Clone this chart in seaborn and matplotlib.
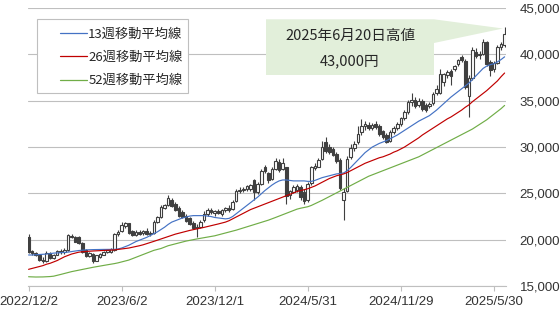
import numpy as np
import pandas as pd
import matplotlib
matplotlib.use("Agg")
import matplotlib.pyplot as plt
import seaborn as sns
from matplotlib.patches import Rectangle, Polygon
from matplotlib.font_manager import FontProperties

# ---------------- data (weekly candles, 2022/12/2 .. 2025/6/20) ----------------
opens = [20300, 18800, 18550, 18400, 17800, 17700, 18600, 18000, 18400, 18750,
         18650, 18900, 20400, 20300, 20250, 19600, 18850, 18250, 18500, 17750,
         18100, 18400, 18700, 18650, 18900, 20600, 20900, 21450, 21750, 20900,
         20550, 20800, 20700, 20900, 20600, 20700, 21900, 22400, 23450, 23700,
         24300, 23900, 23400, 23000, 22600, 22300, 21800, 21400, 21400, 22100,
         22800, 23200, 22900, 23100, 22800, 23200, 23400, 23300, 24200, 25300,
         25400, 25500, 25500, 26400, 25100, 26000, 27800, 27200, 26600, 27600,
         28400, 27600, 27800, 24800, 25200, 25400, 25700, 25200, 24300, 26100,
         27700, 27900, 28700, 30500, 30000, 29800, 29300, 28600, 24300, 25300,
         28900, 29900, 30500, 31600, 32300, 32400, 32100, 32500, 32300, 31700,
         31300, 30700, 31600, 32100, 32500, 33100, 33800, 34900, 35100, 34600,
         35000, 34600, 34400, 34800, 35800, 35800, 37000, 37800, 38200, 38400,
         39000, 39700, 39300, 35500, 37500, 40300, 40000, 40000, 41300, 39200,
         38400, 39100, 40800, 41000]
highs = [20650, 18900, 18700, 18450, 18100, 18750, 18700, 18500, 18900, 19000,
         19100, 20600, 20650, 20450, 20400, 19700, 19000, 18700, 18600, 18400,
         18600, 18800, 19000, 19100, 20700, 21000, 21950, 21900, 21850, 21100,
         21000, 21000, 21100, 21250, 20900, 22100, 22600, 23700, 23900, 24830,
         24500, 24100, 23600, 23200, 22800, 22500, 22000, 21700, 22100, 23100,
         23400, 23400, 23200, 23300, 23300, 23500, 23700, 24300, 25500, 25700,
         25700, 25900, 26000, 26600, 26200, 27600, 28100, 27300, 27800, 28800,
         28700, 28800, 27900, 25400, 25900, 26000, 25900, 25500, 26200, 28000,
         28300, 28800, 30700, 31100, 30300, 30000, 29500, 28800, 25600, 29000,
         30300, 30700, 32300, 33000, 32800, 32700, 32600, 32800, 32500, 31900,
         31500, 31900, 32300, 32700, 33300, 34000, 35100, 35800, 35400, 35300,
         35200, 34800, 34900, 36000, 36700, 38400, 38000, 38300, 38400, 38900,
         39500, 39900, 39500, 37800, 40800, 40700, 40400, 41700, 41500, 39400,
         39300, 41000, 41300, 43000]
lows = [18600, 18400, 18200, 17650, 17500, 17600, 17900, 17900, 18300, 18500,
        18500, 18800, 20200, 19700, 19500, 18600, 18100, 18100, 17500, 17650,
        18000, 18300, 18550, 18600, 18800, 20400, 20800, 21300, 20600, 20400,
        20400, 20500, 20500, 20500, 20400, 20600, 21800, 22300, 23300, 23600,
        23500, 23100, 22500, 22300, 21900, 21600, 21200, 20300, 21300, 21900,
        22600, 22800, 22600, 22800, 22600, 23000, 23000, 23200, 24100, 25000,
        25100, 25300, 25300, 24300, 24900, 25900, 27200, 26100, 26500, 27500,
        27300, 27500, 23900, 24400, 25000, 25200, 24300, 23900, 24100, 25900,
        27500, 27800, 28600, 29400, 29300, 29000, 28300, 25400, 22100, 25100,
        28700, 29600, 30300, 31300, 31900, 31900, 31800, 32000, 31200, 30900,
        30400, 30500, 31400, 31900, 32300, 32900, 33600, 34400, 34200, 34300,
        33900, 33800, 34200, 34600, 35600, 35700, 36600, 37500, 36700, 38200,
        38800, 39200, 36300, 33300, 37300, 39600, 39500, 39900, 38800, 37700,
        38100, 39000, 40500, 40800]
closes = [18700, 18550, 18400, 17800, 17700, 18600, 18000, 18400, 18750, 18650,
          18900, 20500, 20300, 19800, 19650, 18700, 18200, 18550, 17700, 18300,
          18500, 18700, 18850, 18950, 20600, 20850, 21550, 21750, 20700, 20550,
          20800, 20650, 20900, 20600, 20700, 21900, 22400, 23500, 23700, 24450,
          23600, 23200, 22600, 22400, 22000, 21700, 21300, 21300, 21950, 22800,
          23200, 22950, 23100, 22900, 23200, 23400, 23200, 24100, 25300, 25400,
          25500, 25800, 25900, 25200, 26000, 27400, 27400, 26500, 27600, 28500,
          27500, 28300, 24700, 25300, 25700, 25800, 24600, 24200, 26000, 27800,
          28000, 28600, 30000, 29600, 29500, 29200, 28500, 25600, 25200, 28700,
          29900, 30300, 31400, 32300, 32500, 32100, 32400, 32200, 31400, 31100,
          30600, 31600, 32100, 32500, 33100, 33800, 34900, 35100, 34400, 35000,
          34100, 34000, 34700, 35700, 36300, 37900, 37900, 38100, 37700, 38800,
          39400, 39400, 36500, 37500, 40500, 39800, 39900, 41400, 39000, 38300,
          39100, 40800, 41100, 42200]

ma13 = [18350, 18350, 18380, 18400, 18420, 18450, 18500, 18550, 18580, 18600,
        18620, 18660, 18720, 18780, 18830, 18870, 18900, 18920, 18930, 18940,
        18950, 18950, 18950, 18950, 18960, 19000, 19100, 19250, 19400, 19600,
        19800, 19950, 20100, 20250, 20450, 20650, 20850, 21100, 21350, 21650,
        21900, 22050, 22200, 22350, 22450, 22550, 22600, 22600, 22600, 22600,
        22550, 22500, 22400, 22350, 22300, 22250, 22300, 22500, 22800, 23100,
        23400, 23700, 24000, 24300, 24600, 24950, 25300, 25600, 25900, 26150,
        26350, 26450, 26450, 26400, 26350, 26350, 26350, 26350, 26300, 26300,
        26400, 26550, 26700, 26800, 26900, 27000, 27100, 27150, 27200, 27450,
        27800, 28200, 28600, 29000, 29400, 29700, 30000, 30200, 30400, 30550,
        30700, 30900, 31100, 31300, 31550, 31800, 32050, 32300, 32550, 32800,
        33000, 33200, 33400, 33700, 34000, 34350, 34700, 35050, 35400, 35700,
        36000, 36300, 36600, 36900, 37300, 37700, 38100, 38500, 38750, 38900,
        39000, 39200, 39450, 39750]
ma26 = [16800, 16900, 17000, 17100, 17200, 17350, 17450, 17600, 17750, 17950,
        18150, 18300, 18450, 18550, 18650, 18700, 18730, 18760, 18780, 18800,
        18820, 18840, 18860, 18880, 18900, 18950, 19000, 19050, 19100, 19180,
        19260, 19350, 19450, 19570, 19700, 19820, 19950, 20080, 20200, 20350,
        20480, 20600, 20700, 20800, 20900, 21000, 21080, 21150, 21250, 21330,
        21420, 21500, 21600, 21700, 21800, 21900, 22050, 22250, 22450, 22650,
        22850, 23050, 23250, 23400, 23550, 23700, 23850, 24000, 24150, 24300,
        24450, 24600, 24750, 24900, 25050, 25200, 25300, 25400, 25500, 25650,
        25800, 26000, 26200, 26400, 26600, 26750, 26900, 27000, 27100, 27250,
        27450, 27650, 27850, 28050, 28250, 28400, 28550, 28700, 28850, 28950,
        29100, 29250, 29450, 29600, 29800, 30000, 30250, 30500, 30750, 31000,
        31300, 31550, 31800, 32050, 32300, 32550, 32800, 33050, 33250, 33500,
        33750, 34000, 34300, 34550, 34900, 35200, 35500, 35800, 36100, 36450,
        36800, 37150, 37600, 38000]
ma52 = [16000, 15980, 15970, 15970, 15980, 16000, 16020, 16060, 16150, 16250,
        16350, 16450, 16550, 16630, 16720, 16800, 16880, 16950, 17020, 17090,
        17160, 17220, 17290, 17350, 17420, 17500, 17600, 17700, 17800, 17950,
        18100, 18250, 18400, 18550, 18700, 18850, 18950, 19050, 19200, 19350,
        19450, 19550, 19650, 19750, 19850, 19930, 20000, 20080, 20150, 20220,
        20280, 20350, 20420, 20520, 20620, 20720, 20820, 20920, 21030, 21150,
        21270, 21390, 21510, 21630, 21750, 21870, 21990, 22110, 22250, 22400,
        22550, 22700, 22850, 23000, 23150, 23300, 23400, 23480, 23560, 23700,
        23880, 24060, 24250, 24450, 24650, 24850, 25050, 25250, 25450, 25650,
        25850, 26050, 26250, 26450, 26650, 26850, 27000, 27150, 27300, 27450,
        27600, 27750, 27900, 28050, 28200, 28350, 28500, 28650, 28800, 28950,
        29150, 29350, 29550, 29750, 29950, 30150, 30350, 30550, 30750, 30950,
        31150, 31350, 31550, 31750, 31950, 32200, 32450, 32700, 32950, 33250,
        33550, 33850, 34150, 34500]

tick_pos = [0, 26, 52, 78, 104, 130]
tick_labels = ["2022/12/2", "2023/6/2", "2023/12/1", "2024/5/31", "2024/11/29", "2025/5/30"]
y_ticks = [15000, 20000, 25000, 30000, 35000, 40000, 45000]
series_names = ["13週移動平均線", "26週移動平均線", "52週移動平均線"]
series_colors = ["#4472C4", "#C00000", "#70AD47"]
annot_lines = ["2025年6月20日高値", "43,000円"]

# ---------------- style ----------------
sns.set_theme(style="white")
plt.rcParams["font.family"] = ["Liberation Sans", "Noto Sans CJK JP", "DejaVu Sans"]

W, H = 560, 310
fig = plt.figure(figsize=(W / 100, H / 100), dpi=100)
fig.patch.set_facecolor("white")
ax = fig.add_axes([27.5 / W, 1 - 286 / H, (506.4 - 27.5) / W, (286 - 8.2) / H])
ax.set_facecolor("white")

x = np.arange(len(closes))
o = np.array(opens); c = np.array(closes)
hi = np.array(highs); lo = np.array(lows)
up = c >= o
edge = "#404040"

# wicks
ax.vlines(x, lo, hi, color=edge, linewidth=0.8, zorder=2)
# bodies
body_bottom = np.minimum(o, c)
body_h = np.maximum(np.abs(c - o), 60)
ax.bar(x[up], body_h[up], bottom=body_bottom[up], width=0.72,
       color="white", edgecolor=edge, linewidth=0.8, zorder=3)
ax.bar(x[~up], body_h[~up], bottom=body_bottom[~up], width=0.72,
       color=edge, edgecolor=edge, linewidth=0.8, zorder=3)

# moving averages with seaborn
df = pd.DataFrame({"week": np.concatenate([x, x, x]),
                   "value": np.concatenate([ma13, ma26, ma52]),
                   "series": np.repeat(series_names, len(x))})
sns.lineplot(data=df, x="week", y="value", hue="series", palette=series_colors,
             hue_order=series_names, linewidth=0.85, ax=ax, legend=False, zorder=4)

ax.set_xlim(-0.3, 133.5)
ax.set_ylim(15000, 45000)
ax.set_xlabel(""); ax.set_ylabel("")

for s in ["top", "left", "right"]:
    ax.spines[s].set_visible(False)
ax.spines["bottom"].set_color("#bfbfbf")
ax.spines["bottom"].set_linewidth(0.8)

ax.yaxis.grid(True, color="#bfbfbf", linewidth=0.8)
ax.xaxis.grid(False)
ax.set_axisbelow(True)

ax.set_xticks(tick_pos)
ax.set_xticklabels(tick_labels)
ax.set_yticks(y_ticks)
ax.set_yticklabels([f"{v:,}" for v in y_ticks])
ax.yaxis.tick_right()
ax.tick_params(axis="y", length=0, pad=9.5, labelsize=9.5, labelcolor="#333333")
ax.tick_params(axis="x", length=3.5, width=0.8, color="#bfbfbf", pad=4,
               labelsize=9.5, labelcolor="#333333", bottom=True, direction="out")

# legend box and legend
ax.add_patch(Rectangle((37.3 / W, 1 - 93.3 / H), 150.4 / W, 74.6 / H,
                       transform=fig.transFigure, facecolor="white",
                       edgecolor="#bfbfbf", linewidth=0.8, zorder=6, clip_on=False))
handles = [plt.Line2D([], [], color=col, linewidth=0.9) for col in series_colors]
leg = ax.legend(handles, series_names, loc="upper left",
                bbox_to_anchor=(53.3 / W, 1 - 21.0 / H), bbox_transform=fig.transFigure,
                frameon=False, borderpad=0, handlelength=2.05, handletextpad=0.1,
                labelspacing=0.78, prop=FontProperties(family="Noto Sans CJK JP", size=9.5))
leg.set_zorder(7)
for t in leg.get_texts():
    t.set_color("#262626")

# annotation callout
poly = [(266, 19.3), (434, 19.3), (503, 28.5), (434, 43), (434, 75), (266, 75)]
ax.add_patch(Polygon([(px / W, 1 - py / H) for px, py in poly], closed=True,
                     transform=fig.transFigure, facecolor="#E2EFDA",
                     edgecolor="none", zorder=6, clip_on=False))
ax.text(350 / W, 1 - 36 / H, annot_lines[0], transform=fig.transFigure,
        ha="center", va="center", fontsize=10.5, color="#262626",
        family=["Noto Sans CJK JP"], zorder=7)
ax.text(350 / W, 1 - 61 / H, annot_lines[1], transform=fig.transFigure,
        ha="center", va="center", fontsize=10.5, color="#262626",
        family=["Noto Sans CJK JP"], zorder=7)

fig.savefig("out.png", dpi=100, facecolor="white")
